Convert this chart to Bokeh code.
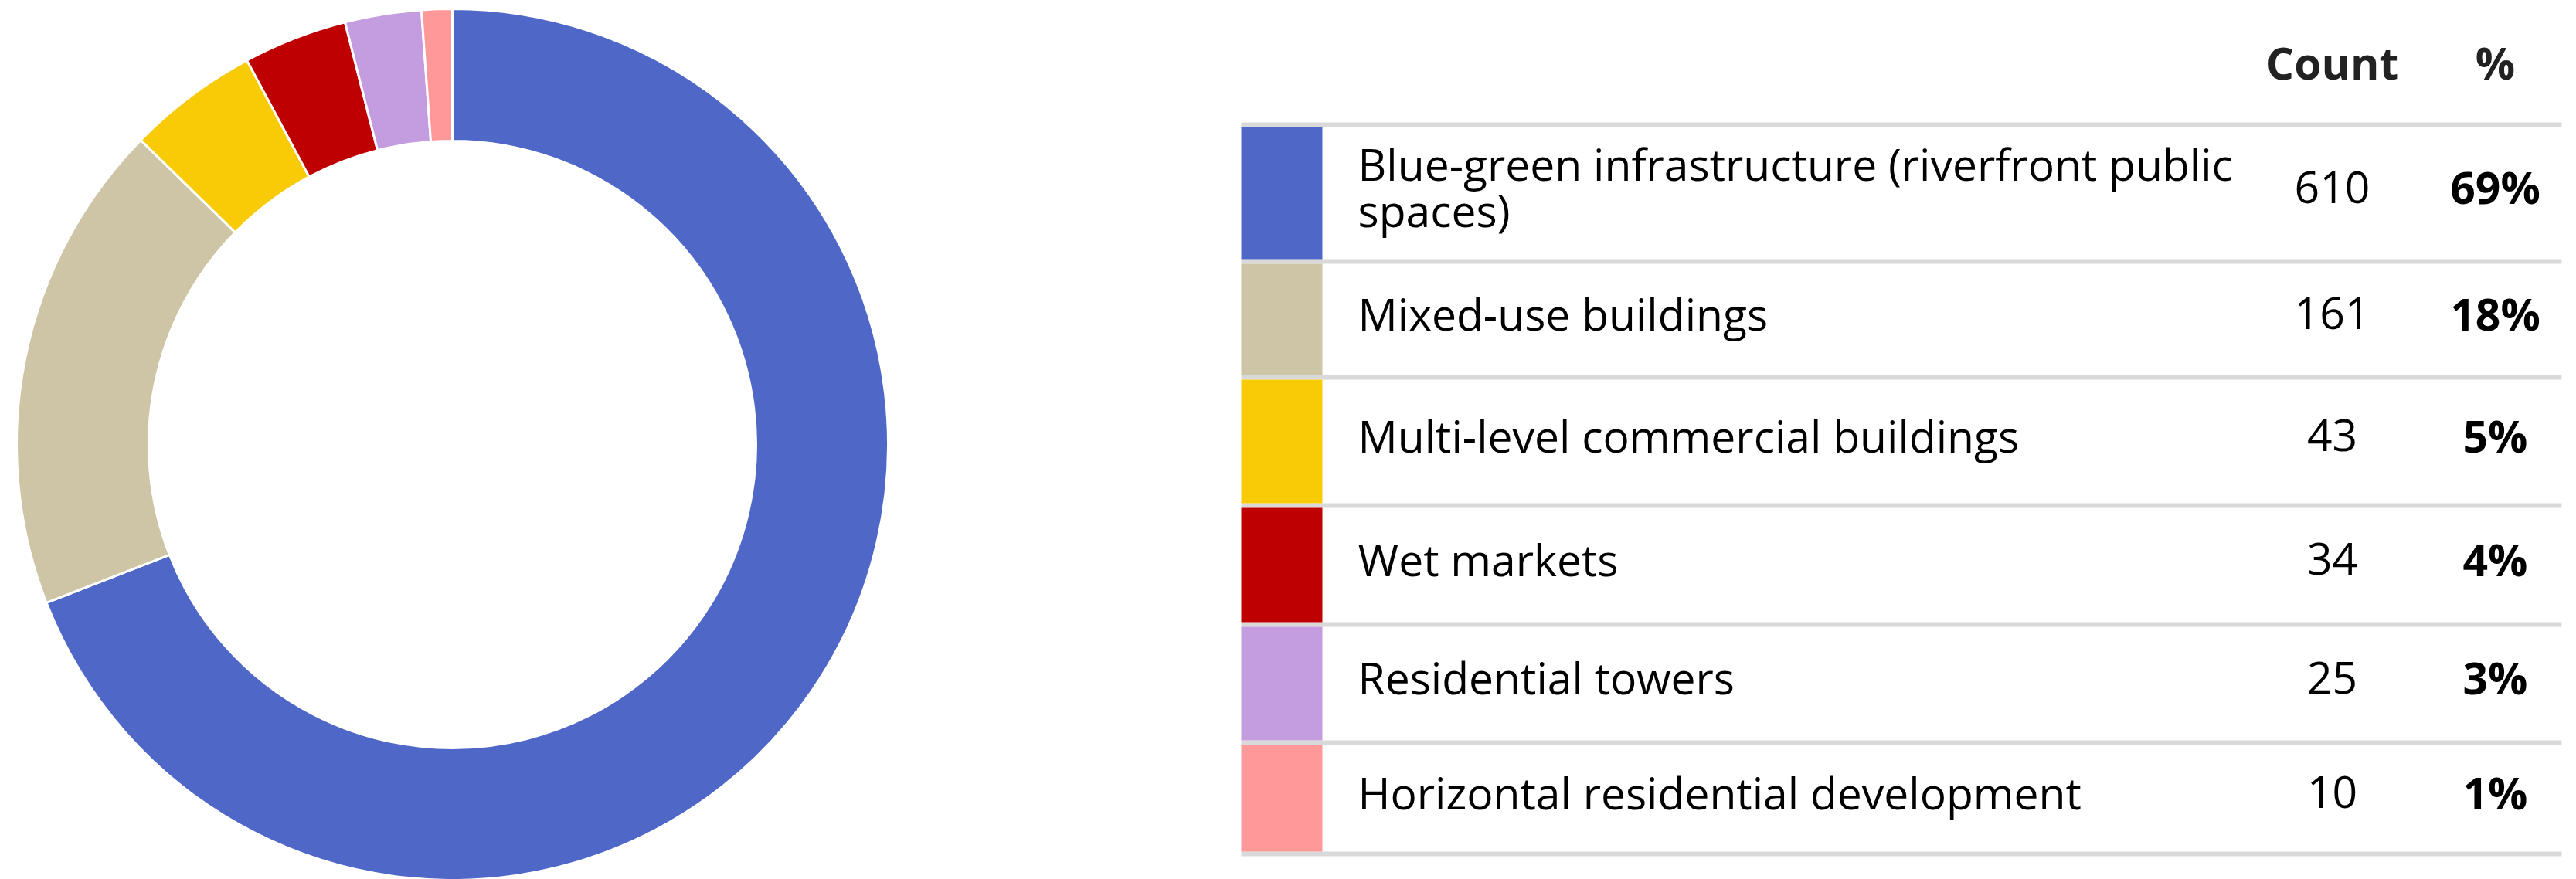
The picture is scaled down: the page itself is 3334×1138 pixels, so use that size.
import textwrap
import numpy as np
from bokeh.plotting import figure
from bokeh.models import Range1d, ColumnDataSource
from bokeh.core.properties import value
from bokeh.embed import file_html
from bokeh.resources import INLINE

# ---------------- data ----------------
categories = [
    "Blue-green infrastructure (riverfront public spaces)",
    "Mixed-use buildings",
    "Multi-level commercial buildings",
    "Wet markets",
    "Residential towers",
    "Horizontal residential development",
]
counts = [610, 161, 43, 34, 25, 10]
colors = ["#4F68C8", "#CEC5A7", "#F8CB06", "#BF0000", "#C49DE0", "#FF9999"]
header_labels = ["Count", "%"]

# ---------------- layout constants ----------------
W, H = 3334, 1138
FONT = "Open Sans"
FS = "57px"
CX, CY = 585, 575          # donut centre (pixel coords from top)
R_OUT, R_IN = 564, 393
line_tops = [158, 335, 485, 651, 805, 958, 1102]   # row separators (px from top)
LINE_T = 6
X_LINE0, X_LINE1 = 1606, 3315
SW_X0, SW_X1 = 1606, 1711
X_LABEL = 1757
X_COUNT = 3018
X_PCT = 3229
HEADER_MID = 80
TEXT_SHIFT = -8


def Y(py):
    return H - py


total = sum(counts)
fracs = [c / total for c in counts]
pcts = [f"{round(f * 100)}%" for f in fracs]
cum = np.concatenate([[0], np.cumsum(fracs)])
start = [np.pi / 2 - 2 * np.pi * cum[i] for i in range(len(counts))]
end = [np.pi / 2 - 2 * np.pi * cum[i + 1] for i in range(len(counts))]

p = figure(width=W, height=H, output_backend="svg", toolbar_location=None,
           x_range=Range1d(0, W), y_range=Range1d(0, H),
           x_axis_location=None, y_axis_location=None, min_border=0)
p.grid.visible = False
p.outline_line_color = None
p.background_fill_color = "white"
p.border_fill_color = "white"

# donut
donut = ColumnDataSource(dict(start=start, end=end, color=colors, cat=categories))
p.annular_wedge(x=CX, y=Y(CY), inner_radius=R_IN, outer_radius=R_OUT,
                start_angle="start", end_angle="end", direction="clock",
                fill_color="color", line_color="white", line_width=3, source=donut)

# table rows
n = len(categories)
row_top = [line_tops[i] + LINE_T for i in range(n)]
row_bot = [line_tops[i + 1] for i in range(n)]
row_mid = [(a + b) / 2 + TEXT_SHIFT for a, b in zip(row_top, row_bot)]
wrapped = ["\n".join(textwrap.wrap(c, 45)) for c in categories]

# separator lines
p.quad(left=X_LINE0, right=X_LINE1,
       top=[Y(t) for t in line_tops], bottom=[Y(t + LINE_T) for t in line_tops],
       fill_color="#D9D9D9", line_color=None)

rows = ColumnDataSource(dict(
    top=[Y(t) for t in row_top], bottom=[Y(b) for b in row_bot],
    ymid=[Y(m) for m in row_mid], color=colors, label=wrapped,
    count=[str(c) for c in counts], pct=pcts))

p.quad(left=SW_X0, right=SW_X1, top="top", bottom="bottom",
       fill_color="color", line_color=None, source=rows)

p.text(x=X_LABEL, y="ymid", text="label", source=rows,
       text_font=value(FONT), text_font_size=FS, text_color="#000000",
       text_align="left", text_baseline="middle", text_line_height=0.76)
p.text(x=X_COUNT, y="ymid", text="count", source=rows,
       text_font=value(FONT), text_font_size=FS, text_color="#000000",
       text_align="center", text_baseline="middle")
p.text(x=X_PCT, y="ymid", text="pct", source=rows,
       text_font=value(FONT), text_font_size=FS, text_font_style="bold",
       text_color="#000000", text_align="center", text_baseline="middle")

# header
p.text(x=[X_COUNT, X_PCT], y=[Y(HEADER_MID)] * 2, text=header_labels,
       text_font=value(FONT), text_font_size=FS, text_font_style="bold",
       text_color="#222222", text_align="center", text_baseline="middle")

open("out.html", "w").write(file_html(p, INLINE))
